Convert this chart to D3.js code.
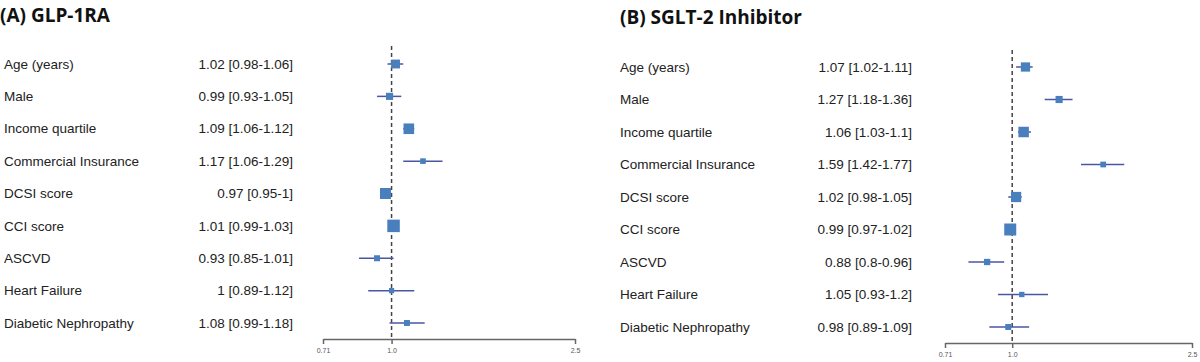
<!DOCTYPE html>
<html><head><meta charset="utf-8">
<script src="https://cdn.jsdelivr.net/npm/d3@7"></script>
<style>
html,body{margin:0;padding:0;background:#fff;}
svg{display:block;}
</style></head>
<body>
<svg id="chart" width="1200" height="362"></svg>
<script>
// ---- data ----
const categories = ["Age (years)","Male","Income quartile","Commercial Insurance","DCSI score","CCI score","ASCVD","Heart Failure","Diabetic Nephropathy"];
const glpOR = [1.02, 0.99, 1.09, 1.17, 0.97, 1.01, 0.93, 1, 1.08];
const glpLo = [0.98, 0.93, 1.06, 1.06, 0.95, 0.99, 0.85, 0.89, 0.99];
const glpHi = [1.06, 1.05, 1.12, 1.29, 1, 1.03, 1.01, 1.12, 1.18];
const sgltOR = [1.07, 1.27, 1.06, 1.59, 1.02, 0.99, 0.88, 1.05, 0.98];
const sgltLo = [1.02, 1.18, 1.03, 1.42, 0.98, 0.97, 0.8, 0.93, 0.89];
const sgltHi = [1.11, 1.36, 1.1, 1.77, 1.05, 1.02, 0.96, 1.2, 1.09];
const tickValues = [0.71, 1.0, 2.5];
const tickLabels = ["0.71", "1.0", "2.5"];
const titles = ["(A) GLP-1RA", "(B) SGLT-2 Inhibitor"];

const svg = d3.select("#chart");
const boxColor = "#4a7fbd", ciColor = "#4b56a2";

function drawPanel(p) {
  const rows = categories.map((c, i) => ({
    cat: c, or: p.or[i], lo: p.lo[i], hi: p.hi[i],
    prec: 1 / (Math.log(p.hi[i]) - Math.log(p.lo[i]))
  }));
  const g = svg.append("g");
  const x = d3.scaleLog().domain([0.71, 2.5]).range(p.xRange);
  const y = d3.scalePoint().domain(categories).range(p.yRange);
  const size = d3.scaleSqrt().domain([0, d3.max(rows, d => d.prec)]).range([0, p.maxBox]);

  g.append("text").attr("x", p.titleX).attr("y", p.titleY)
    .style("font-family", "'Open Sans', Lato, sans-serif").style("font-weight", 700)
    .style("font-size", "19px").attr("fill", "#111").text(p.title);

  g.selectAll(".lab").data(rows).join("text")
    .attr("x", p.labelX).attr("y", d => y(d.cat)).attr("dy", "0.35em")
    .style("font-family", "'Liberation Sans', Arial, sans-serif").style("font-size", "13.5px")
    .attr("fill", "#222").text(d => d.cat);

  g.selectAll(".val").data(rows).join("text")
    .attr("x", p.valueX).attr("y", d => y(d.cat)).attr("dy", "0.35em").attr("text-anchor", "end")
    .style("font-family", "'Liberation Sans', Arial, sans-serif").style("font-size", "13.5px")
    .attr("fill", "#222").text(d => `${d.or} [${d.lo}-${d.hi}]`);

  // reference line
  g.append("line").attr("x1", x(1)).attr("x2", x(1))
    .attr("y1", p.refTop).attr("y2", p.axisY)
    .attr("stroke", "#444").attr("stroke-width", 1.5).attr("stroke-dasharray", "4,3");

  // CI lines
  g.selectAll(".ci").data(rows).join("line")
    .attr("x1", d => x(d.lo)).attr("x2", d => x(d.hi))
    .attr("y1", d => y(d.cat)).attr("y2", d => y(d.cat))
    .attr("stroke", ciColor).attr("stroke-width", 1.5);

  // boxes
  g.selectAll(".box").data(rows).join("rect")
    .attr("x", d => x(d.or) - size(d.prec) / 2).attr("y", d => y(d.cat) - size(d.prec) / 2)
    .attr("width", d => size(d.prec)).attr("height", d => size(d.prec))
    .attr("fill", boxColor);

  // axis
  const axis = d3.axisBottom(x).tickValues(tickValues)
    .tickFormat((d, i) => tickLabels[i]).tickSize(5).tickSizeOuter(0);
  const ag = g.append("g").attr("transform", `translate(0,${p.axisY})`).call(axis);
  ag.select(".domain").attr("stroke", "#666").attr("stroke-width", 1.5);
  ag.selectAll(".tick line").attr("stroke", "#666").attr("stroke-width", 1.5);
  ag.selectAll(".tick text").attr("fill", "#555").attr("y", 9)
    .style("font-family", "'Liberation Sans', Arial, sans-serif").style("font-size", "7px");
}

drawPanel({title: titles[0], or: glpOR, lo: glpLo, hi: glpHi,
  titleX: 0, titleY: 22, labelX: 4, valueX: 293,
  xRange: [323, 575], yRange: [64, 323], axisY: 339, refTop: 46, maxBox: 12.5});
drawPanel({title: titles[1], or: sgltOR, lo: sgltLo, hi: sgltHi,
  titleX: 620, titleY: 24, labelX: 620, valueX: 912,
  xRange: [945, 1192], yRange: [67, 327], axisY: 343, refTop: 50, maxBox: 12});
</script>
</body></html>
